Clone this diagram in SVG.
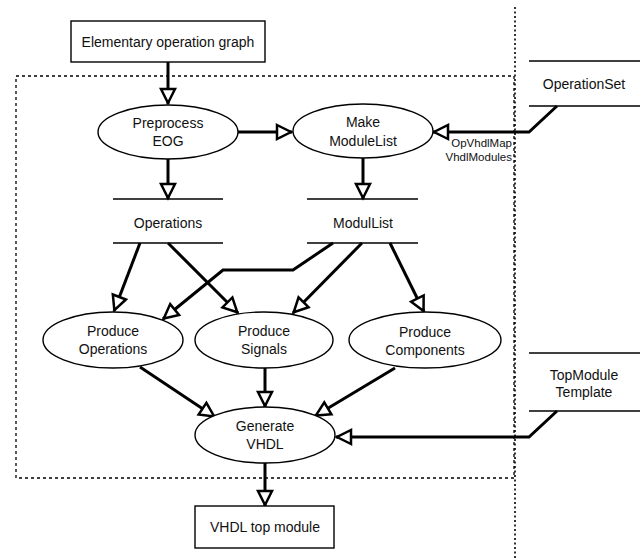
<svg xmlns="http://www.w3.org/2000/svg" width="644" height="558" viewBox="0 0 644 558">
<style>
text{font-family:"Liberation Sans",Arial,sans-serif;font-size:14px;fill:#111;text-anchor:middle;dominant-baseline:central}
.small{font-size:11.5px}
.proc{fill:#fff;stroke:#000;stroke-width:1.4}
.box{fill:#fff;stroke:#000;stroke-width:1.4}
.store{stroke:#000;stroke-width:1.5;fill:none}
.conn path,.conn polyline,.conn line{fill:none;stroke:#000;stroke-width:3;marker-end:url(#arr)}
.frame{fill:none;stroke:#000;stroke-width:1.3;stroke-dasharray:3,3}
.sep{stroke:#000;stroke-width:1.6;stroke-dasharray:2,2.5}
</style>
<defs>
<marker id="arr" markerUnits="userSpaceOnUse" markerWidth="20" markerHeight="20" refX="16" refY="8" orient="auto" viewBox="-2 -2 20 20">
<path d="M1,1 L15,8 L1,15 Z" fill="#fff" stroke="#000" stroke-width="2.5" stroke-linejoin="miter"/>
</marker>
</defs>
<rect class="frame" x="16" y="76" width="498" height="402"/>
<line class="sep" x1="515" y1="7" x2="515" y2="558"/>

<g id="conns" class="conn">
<line x1="168" y1="62" x2="168" y2="104"/>
<line x1="238" y1="132" x2="292" y2="132"/>
<line x1="168" y1="159" x2="168" y2="199"/>
<line x1="363" y1="158" x2="363" y2="199"/>
<polyline points="557,106 529,132 433,132"/>
<line x1="140" y1="243" x2="114" y2="311"/>
<line x1="168" y1="243" x2="238" y2="313"/>
<polyline points="333,243 293,270 223,270 163,319"/>
<line x1="362" y1="243" x2="293" y2="313"/>
<line x1="390" y1="243" x2="424" y2="312"/>
<line x1="140" y1="367" x2="215" y2="417"/>
<line x1="265" y1="367" x2="265" y2="407"/>
<line x1="395" y1="368" x2="315" y2="416"/>
<polyline points="557,411 529,437 336,437"/>
<line x1="265" y1="463" x2="265" y2="506"/>
</g>

<g id="eog">
<rect class="box" x="71" y="21" width="194" height="41"/>
<text x="168" y="42">Elementary operation graph</text>
</g>
<g id="preprocess">
<ellipse class="proc" cx="168" cy="132" rx="70" ry="27"/>
<text x="168" y="123">Preprocess</text>
<text x="168" y="141">EOG</text>
</g>
<g id="makemodulelist">
<ellipse class="proc" cx="363" cy="131" rx="70" ry="27"/>
<text x="363" y="122">Make</text>
<text x="363" y="141">ModuleList</text>
</g>
<g id="operationset">
<line class="store" x1="529" y1="61" x2="640" y2="61"/>
<line class="store" x1="529" y1="106" x2="640" y2="106"/>
<text x="584" y="84">OperationSet</text>
</g>
<g id="labels">
<text class="small" x="512" y="143" style="text-anchor:end">OpVhdlMap</text>
<text class="small" x="512" y="157" style="text-anchor:end">VhdlModules</text>
</g>
<g id="operations">
<line class="store" x1="113" y1="199" x2="223" y2="199"/>
<line class="store" x1="113" y1="243" x2="223" y2="243"/>
<text x="168" y="223">Operations</text>
</g>
<g id="modullist">
<line class="store" x1="307" y1="199" x2="418" y2="199"/>
<line class="store" x1="307" y1="243" x2="418" y2="243"/>
<text x="363" y="223">ModulList</text>
</g>
<g id="produceoperations">
<ellipse class="proc" cx="113" cy="340" rx="70" ry="28"/>
<text x="113" y="331">Produce</text>
<text x="113" y="349">Operations</text>
</g>
<g id="producesignals">
<ellipse class="proc" cx="264" cy="340" rx="69" ry="28"/>
<text x="264" y="331">Produce</text>
<text x="264" y="349">Signals</text>
</g>
<g id="producecomponents">
<ellipse class="proc" cx="425" cy="340" rx="76" ry="28"/>
<text x="425" y="332">Produce</text>
<text x="425" y="350">Components</text>
</g>
<g id="topmodule">
<line class="store" x1="529" y1="353" x2="640" y2="353"/>
<line class="store" x1="529" y1="411" x2="640" y2="411"/>
<text x="584" y="375">TopModule</text>
<text x="584" y="392">Template</text>
</g>
<g id="generatevhdl">
<ellipse class="proc" cx="265" cy="435" rx="70" ry="28"/>
<text x="265" y="426">Generate</text>
<text x="265" y="444">VHDL</text>
</g>
<g id="vhdltop">
<rect class="box" x="195" y="506" width="139" height="42"/>
<text x="265" y="527">VHDL top module</text>
</g>
</svg>
